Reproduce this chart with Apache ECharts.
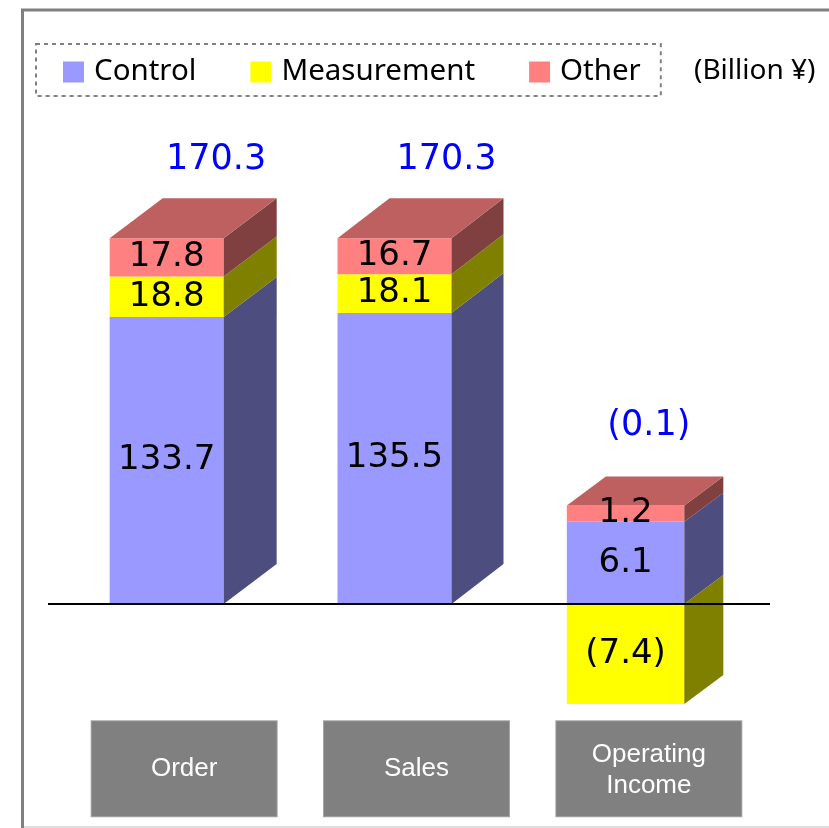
<!DOCTYPE html>
<html><head><meta charset="utf-8">
<script src="https://cdn.jsdelivr.net/npm/echarts@6/dist/echarts.min.js"></script>
<style>html,body{margin:0;padding:0;background:#fff}#c{width:829px;height:828px}</style>
</head><body><div id="c"></div>
<script>
// ---------------- data ----------------
const categories = ['Order', 'Sales', 'Operating\nIncome'];
const segmentNames = ['Control', 'Measurement', 'Other'];
const control = [133.7, 135.5, 6.1];
const measurement = [18.8, 18.1, -7.4];
const other = [17.8, 16.7, 1.2];
const totals = [170.3, 170.3, -0.1];
const unitLabel = '(Billion ¥)';

// ---------------- styling / layout ----------------
const segmentValues = [control, measurement, other];
const frontColors = ['#9999FF', '#FFFF00', '#FF8080'];
const sideColors = ['#4D4D80', '#808000', '#804040'];
const topColors = ['#7373BF', '#BFBF00', '#BF6060'];
// Operating Income is drawn on its own (magnified) value axis
const axisOfCategory = [0, 0, 1];
const MAIN_PX_PER_UNIT = 2.147;
const OI_PX_PER_UNIT = 13.5;
const MAIN_MIN = -50, MAIN_MAX = 250;
const k = MAIN_PX_PER_UNIT / OI_PX_PER_UNIT;
// 3D box geometry per category (pixels relative to category centre)
const boxGeom = [
  {left: -74.5, width: 114, dx: 53, dy: 40, totalDx: 32, totalDy: 78},
  {left: -79, width: 114, dx: 52, dy: 40, totalDx: 30, totalDy: 78},
  {left: -82, width: 117.5, dx: 39, dy: 29, totalDx: 0, totalDy: 80}
];

function fmt(v) {
  return v < 0 ? '(' + Math.abs(v).toFixed(1) + ')' : v.toFixed(1);
}

// stacked extents
const stackItems = segmentValues.map(() => []);
const posTops = [];
categories.forEach((c, ci) => {
  let pos = 0, neg = 0, topSeg = -1;
  segmentValues.forEach((arr, si) => {
    const v = arr[ci];
    let lo, hi;
    if (v >= 0) { lo = pos; hi = pos + v; pos = hi; topSeg = si; }
    else { lo = neg; hi = neg + v; neg = hi; }
    stackItems[si].push({ci, lo, hi, v, isTop: 0});
  });
  stackItems[topSeg][ci].isTop = 1;
  posTops.push(pos);
});

function renderSeg(si) {
  return function (params, api) {
    const ci = api.value(0), lo = api.value(1), hi = api.value(2), isTop = api.value(3), v = api.value(4);
    const g = boxGeom[ci];
    const pLo = api.coord([ci, lo]), pHi = api.coord([ci, hi]);
    const x0 = pLo[0] + g.left, x1 = x0 + g.width;
    const yT = Math.min(pLo[1], pHi[1]), yB = Math.max(pLo[1], pHi[1]);
    const children = [
      {type: 'rect', shape: {x: x0, y: yT, width: g.width, height: yB - yT}, style: {fill: frontColors[si]}},
      {type: 'polygon', shape: {points: [[x1, yT], [x1 + g.dx, yT - g.dy], [x1 + g.dx, yB - g.dy], [x1, yB]]}, style: {fill: sideColors[si]}}
    ];
    if (isTop) {
      children.push({type: 'polygon', shape: {points: [[x0, yT], [x0 + g.dx, yT - g.dy], [x1 + g.dx, yT - g.dy], [x1, yT]]}, style: {fill: topColors[si]}});
    }
    children.push({type: 'text', style: {text: fmt(v), x: (x0 + x1) / 2, y: (yT + yB) / 2, align: 'center', verticalAlign: 'middle', font: '34px "DejaVu Sans"', fill: '#000'}});
    return {type: 'group', children};
  };
}

function renderTotal(params, api) {
  const ci = api.value(0), top = api.value(1), t = api.value(2);
  const g = boxGeom[ci];
  const p = api.coord([ci, top]);
  return {type: 'text', style: {text: fmt(t), x: p[0] + g.totalDx, y: p[1] - g.totalDy, align: 'center', verticalAlign: 'middle', font: '35px "DejaVu Sans"', fill: '#0000FF'}};
}

function renderBaseline(params, api) {
  const y = api.coord([0, 0])[1];
  const cs = params.coordSys;
  return {type: 'line', shape: {x1: cs.x - 20, y1: y, x2: cs.x + cs.width + 5, y2: y}, style: {stroke: '#000', lineWidth: 2}};
}

const series = [];
segmentNames.forEach((name, si) => {
  [0, 1].forEach(a => {
    series.push({
      type: 'custom', name, xAxisIndex: 0, yAxisIndex: a,
      itemStyle: {color: frontColors[si]},
      renderItem: renderSeg(si),
      encode: {x: 0, y: [1, 2]},
      data: stackItems[si].filter(it => axisOfCategory[it.ci] === a).map(it => [it.ci, it.lo, it.hi, it.isTop, it.v])
    });
  });
});
[0, 1].forEach(a => {
  series.push({
    type: 'custom', name: 'Total', xAxisIndex: 0, yAxisIndex: a,
    renderItem: renderTotal, encode: {x: 0, y: 1},
    data: categories.map((c, ci) => [ci, posTops[ci], totals[ci]]).filter(d => axisOfCategory[d[0]] === a)
  });
});
series.push({type: 'custom', name: 'baseline', xAxisIndex: 0, yAxisIndex: 0, renderItem: renderBaseline, encode: {x: 0, y: 1}, data: [[0, 0]], z: 10});

const gridTop = 604 - MAIN_MAX * MAIN_PX_PER_UNIT;
const gridH = (MAIN_MAX - MAIN_MIN) * MAIN_PX_PER_UNIT;

const chart = echarts.init(document.getElementById('c'), null, {renderer: 'canvas'});
chart.setOption({
  animation: false,
  backgroundColor: '#fff',
  grid: {left: 68, right: 64, top: gridTop, height: gridH, containLabel: false},
  legend: {
    data: segmentNames, left: 36, top: 44, itemWidth: 21, itemHeight: 21, itemGap: 54, icon: 'rect',
    padding: [13, 20, 9, 27], borderColor: '#808080', borderWidth: 2, borderType: [4, 4],
    selectedMode: false,
    textStyle: {fontFamily: 'Noto Sans', fontSize: 29.5, color: '#000', lineHeight: 30, padding: [0, 0, 0, 5]}
  },
  xAxis: {
    type: 'category', data: categories,
    axisLine: {show: false, onZero: false}, axisTick: {show: false}, splitLine: {show: false},
    axisLabel: {
      interval: 0, margin: 10, color: '#fff', fontFamily: 'Liberation Sans', fontSize: 26,
      width: 185, backgroundColor: '#808080', borderColor: '#a6a6a6', borderWidth: 1,
      align: 'center', verticalAlign: 'top', overflow: 'none',
      formatter: function (v) {
        const lines = v.split('\n');
        if (lines.length === 1) return '{one|' + v + '}';
        return '{gapT| }\n' + lines.map(l => '{two|' + l + '}').join('\n') + '\n{gapB| }';
      },
      rich: {
        one: {lineHeight: 95, fontSize: 26, fontFamily: 'Liberation Sans', color: '#fff'},
        two: {lineHeight: 31, fontSize: 26, fontFamily: 'Liberation Sans', color: '#fff'},
        gapT: {lineHeight: 17.5, fontSize: 8},
        gapB: {lineHeight: 15.5, fontSize: 8}
      }
    }
  },
  yAxis: [
    {type: 'value', min: MAIN_MIN, max: MAIN_MAX, show: false},
    {type: 'value', min: MAIN_MIN * k, max: MAIN_MAX * k, show: false}
  ],
  graphic: [
    {type: 'line', shape: {x1: 22.5, y1: 9, x2: 22.5, y2: 828}, style: {stroke: '#808080', lineWidth: 3}},
    {type: 'line', shape: {x1: 21, y1: 10, x2: 829, y2: 10}, style: {stroke: '#808080', lineWidth: 3}},
    {type: 'line', shape: {x1: 24, y1: 827, x2: 829, y2: 827}, style: {stroke: '#dddddd', lineWidth: 2}},
    {type: 'text', x: 694, y: 71, style: {text: unitLabel, font: '28px "Noto Sans"', fill: '#000', verticalAlign: 'middle'}}
  ],
  series
});
</script></body></html>
